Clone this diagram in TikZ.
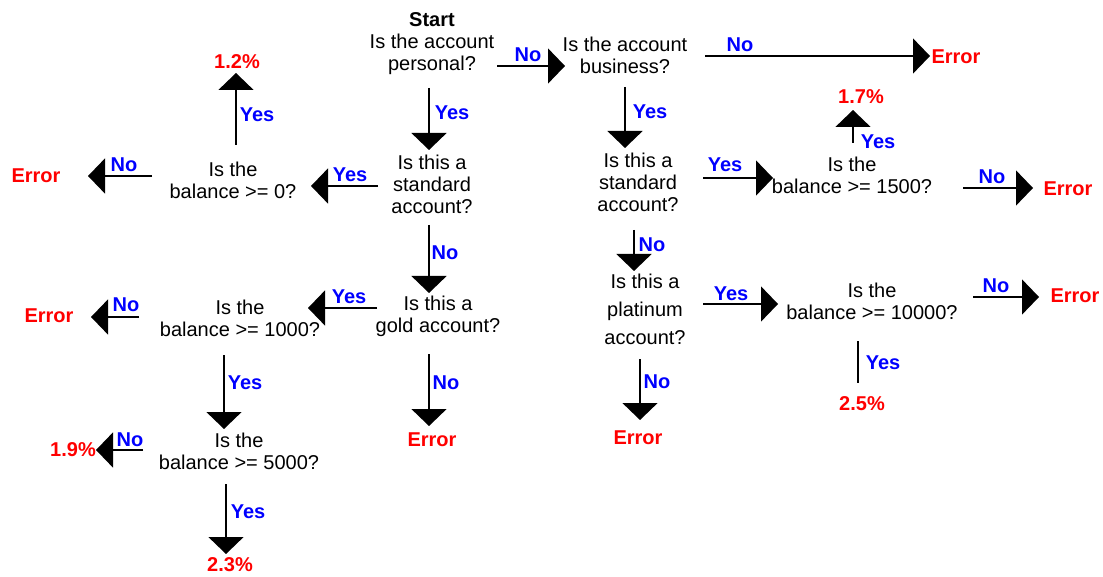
\documentclass[tikz,border=0pt]{standalone}
\usepackage{fontspec}
\setmainfont{Liberation Sans}
\usetikzlibrary{arrows.meta}
\definecolor{lblue}{RGB}{0,0,255}
\definecolor{lred}{RGB}{255,0,0}
\tikzset{
  q/.style={align=center,inner sep=0pt,font=\fontsize{20}{22}\selectfont},
  res/.style={inner sep=0pt,text=lred,font=\fontsize{20}{22}\selectfont\bfseries},
  lbl/.style={inner sep=0pt,text=lblue,font=\fontsize{20}{22}\selectfont\bfseries},
  conn/.style={line width=1.5pt},
  arr/.style={conn,-{Triangle[width=35pt,length=17pt]}}
}
\begin{document}
\begin{tikzpicture}[x=1pt,y=-1pt]
\useasboundingbox (0,0) rectangle (1103,577);
% question nodes
\node[q] (pers) at (432,44) {\textbf{Start}\\Is the account\\personal?};
\node[q] (bus) at (625,55) {Is the account\\business?};
\node[q] (std1) at (432,184) {Is this a\\standard\\account?};
\node[q] (bal0) at (233,180) {Is the\\balance >= 0?};
\node[q] (gold) at (438,316) {Is this a\\gold account?};
\node[q] (bal1000) at (240,318) {Is the\\balance >= 1000?};
\node[q] (bal5000) at (239,451) {Is the\\balance >= 5000?};
\node[q] (std2) at (638,182) {Is this a\\standard\\account?};
\node[q] (bal1500) at (852,175) {Is the\\balance >= 1500?};
\node[q,font=\fontsize{20}{28}\selectfont] (plat) at (645,309) {Is this a\\platinum\\account?};
\node[q] (bal10000) at (872,301) {Is the\\balance >= 10000?};
% results
\node[res] (e1) at (956,57) {Error};
\node[res] (r12) at (237,62) {1.2\%};
\node[res] (e2) at (36,176) {Error};
\node[res] (e3) at (49,316) {Error};
\node[res] (r19) at (73,450) {1.9\%};
\node[res] (r23) at (230,565) {2.3\%};
\node[res] (e4) at (432,440) {Error};
\node[res] (r17) at (861,97) {1.7\%};
\node[res] (e5) at (1068,189) {Error};
\node[res] (e6) at (1075,296) {Error};
\node[res] (r25) at (862,404) {2.5\%};
\node[res] (e7) at (638,438) {Error};
% connectors
\draw[arr] ([shift={(65,22)}]pers.center) -- ([shift={(-60,11)}]bus.center);
\draw[arr] ([shift={(80,1)}]bus.center) -- ([shift={(-26,-1)}]e1.center);
\draw[arr] ([shift={(-3,44)}]pers.center) -- ([shift={(-3,-34)}]std1.center);
\draw[arr] ([shift={(-54,2)}]std1.center) -- ([shift={(78,6)}]bal0.center);
\draw[arr] ([shift={(3,-35)}]bal0.center) -- ([shift={(-1,11)}]r12.center);
\draw[arr] ([shift={(-81,-4)}]bal0.center) -- ([shift={(52,0)}]e2.center);
\draw[arr] ([shift={(-3,41)}]std1.center) -- ([shift={(-9,-23)}]gold.center);
\draw[arr] ([shift={(-61,-8)}]gold.center) -- ([shift={(68,-10)}]bal1000.center);
\draw[arr] ([shift={(-101,-1)}]bal1000.center) -- ([shift={(42,1)}]e3.center);
\draw[arr] ([shift={(-16,37)}]bal1000.center) -- ([shift={(-15,-22)}]bal5000.center);
\draw[arr] ([shift={(-96,-1)}]bal5000.center) -- ([shift={(23,0)}]r19.center);
\draw[arr] ([shift={(-13,33)}]bal5000.center) -- ([shift={(-4,-11)}]r23.center);
\draw[arr] ([shift={(-9,38)}]gold.center) -- ([shift={(-3,-14)}]e4.center);
\draw[arr] ([shift={(0,32)}]bus.center) -- ([shift={(-13,-34)}]std2.center);
\draw[arr] ([shift={(65,-4)}]std2.center) -- ([shift={(-79,3)}]bal1500.center);
\draw[arr] ([shift={(1,-32)}]bal1500.center) -- ([shift={(-8,13)}]r17.center);
\draw[arr] ([shift={(111,13)}]bal1500.center) -- ([shift={(-35,-1)}]e5.center);
\draw[arr] ([shift={(-4,48)}]std2.center) -- ([shift={(-11,-38)}]plat.center);
\draw[arr] ([shift={(58,-5)}]plat.center) -- ([shift={(-94,3)}]bal10000.center);
\draw[arr] ([shift={(101,-4)}]bal10000.center) -- ([shift={(-36,1)}]e6.center);
\draw[conn] ([shift={(-14,40)}]bal10000.center) -- ([shift={(-4,-21)}]r25.center);
\draw[arr] ([shift={(-5,50)}]plat.center) -- ([shift={(2,-18)}]e7.center);
% labels
\node[lbl] (l1) at (528,55) {No};
\node[lbl] (l2) at (740,45) {No};
\node[lbl] (l3) at (452,113) {Yes};
\node[lbl] (l4) at (350,175) {Yes};
\node[lbl] (l5) at (257,115) {Yes};
\node[lbl] (l6) at (124,165) {No};
\node[lbl] (l7) at (445,253) {No};
\node[lbl] (l8) at (349,297) {Yes};
\node[lbl] (l9) at (126,305) {No};
\node[lbl] (l10) at (245,383) {Yes};
\node[lbl] (l11) at (130,440) {No};
\node[lbl] (l12) at (248,512) {Yes};
\node[lbl] (l13) at (446,383) {No};
\node[lbl] (l14) at (650,112) {Yes};
\node[lbl] (l15) at (725,165) {Yes};
\node[lbl] (l16) at (878,142) {Yes};
\node[lbl] (l17) at (992,177) {No};
\node[lbl] (l18) at (652,245) {No};
\node[lbl] (l19) at (731,294) {Yes};
\node[lbl] (l20) at (996,286) {No};
\node[lbl] (l21) at (883,363) {Yes};
\node[lbl] (l22) at (657,382) {No};
\end{tikzpicture}
\end{document}
